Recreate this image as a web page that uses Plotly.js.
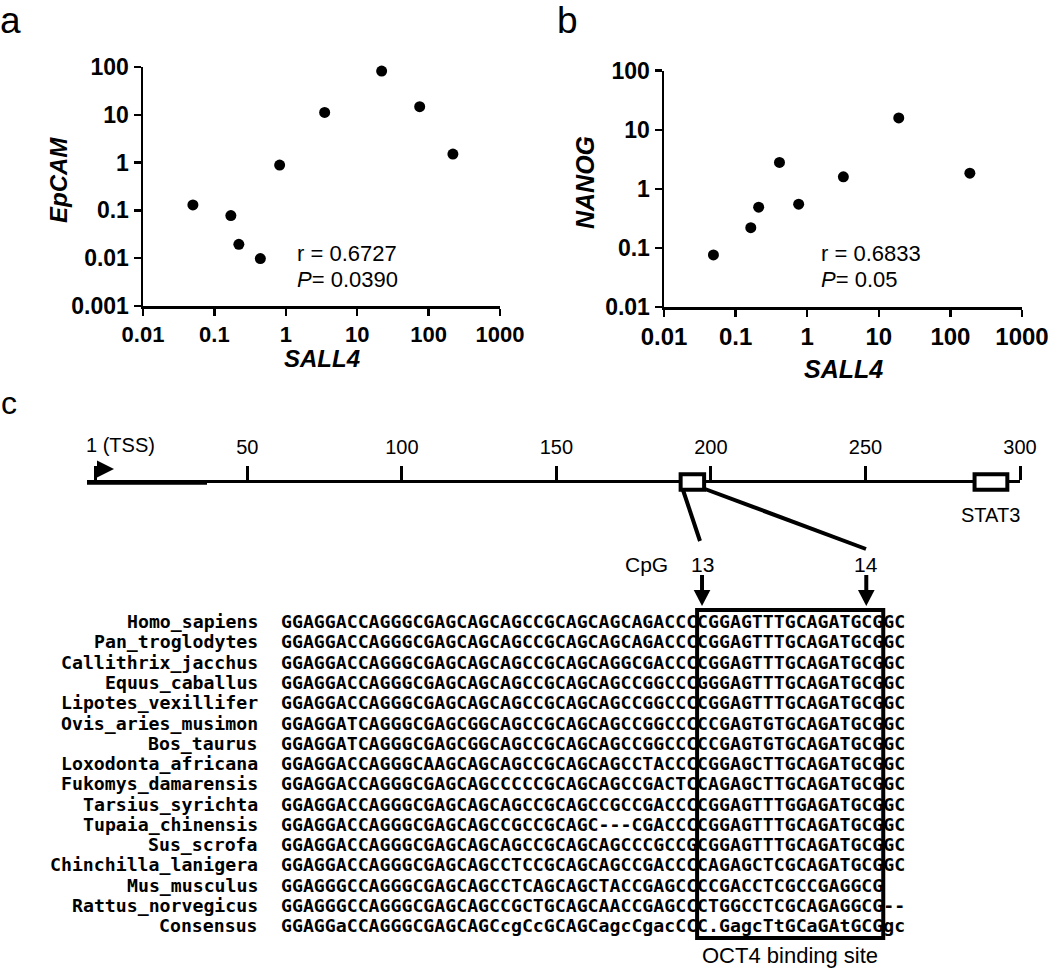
<!DOCTYPE html>
<html><head><meta charset="utf-8">
<script src="https://cdn.plot.ly/plotly-3.0.1.min.js"></script>
<style>html,body{margin:0;padding:0;background:#fff;}#chart{width:1050px;height:971px;}</style>
</head><body><div id="chart"></div>
<script>
// ---------- Panel a data ----------
const sall4_a = [0.05, 0.17, 0.22, 0.44, 0.82, 3.5, 22, 75, 219];
const epcam   = [0.13, 0.078, 0.0195, 0.0098, 0.89, 11.2, 82, 14.8, 1.51];
const stats_a = ['0.6727', '0.0390'];
// ---------- Panel b data ----------
const sall4_b = [0.049, 0.163, 0.21, 0.41, 0.76, 3.2, 19, 187];
const nanog   = [0.076, 0.22, 0.49, 2.8, 0.55, 1.6, 15.9, 1.84];
const stats_b = ['0.6833', '0.05'];
// ---------- tick labels ----------
const xTickVals = [0.01, 0.1, 1, 10, 100, 1000];
const xTickText = ['0.01', '0.1', '1', '10', '100', '1000'];
const yTickValsA = [0.001, 0.01, 0.1, 1, 10, 100];
const yTickTextA = ['0.001', '0.01', '0.1', '1', '10', '100'];
const yTickValsB = [0.01, 0.1, 1, 10, 100];
const yTickTextB = ['0.01', '0.1', '1', '10', '100'];
// ---------- Panel c: promoter schematic ----------
const promoterTicks = [1, 50, 100, 150, 200, 250, 300];
const promoterTickText = ['', '50', '100', '150', '200', '250', '300'];
const cpgRegion = [190.2, 197.8];
const stat3Region = [285.3, 295.9];
// ---------- Panel c: alignment ----------
const species = ['Homo_sapiens', 'Pan_troglodytes', 'Callithrix_jacchus', 'Equus_caballus',
  'Lipotes_vexillifer', 'Ovis_aries_musimon', 'Bos_taurus', 'Loxodonta_africana',
  'Fukomys_damarensis', 'Tarsius_syrichta', 'Tupaia_chinensis', 'Sus_scrofa',
  'Chinchilla_lanigera', 'Mus_musculus', 'Rattus_norvegicus', 'Consensus'];
const sequences = [
  'GGAGGACCAGGGCGAGCAGCAGCCGCAGCAGCAGACCCCGGAGTTTGCAGATGCGGC',
  'GGAGGACCAGGGCGAGCAGCAGCCGCAGCAGCAGACCCCGGAGTTTGCAGATGCGGC',
  'GGAGGACCAGGGCGAGCAGCAGCCGCAGCAGGCGACCCCGGAGTTTGCAGATGCGGC',
  'GGAGGACCAGGGCGAGCAGCAGCCGCAGCAGCCGGCCCGGGAGTTTGCAGATGCGGC',
  'GGAGGACCAGGGCGAGCAGCAGCCGCAGCAGCCGGCCCCGGAGTTTGCAGATGCGGC',
  'GGAGGATCAGGGCGAGCGGCAGCCGCAGCAGCCGGCCCCCGAGTGTGCAGATGCGGC',
  'GGAGGATCAGGGCGAGCGGCAGCCGCAGCAGCCGGCCCCCGAGTGTGCAGATGCGGC',
  'GGAGGACCAGGGCAAGCAGCAGCCGCAGCAGCCTACCCCGGAGCTTGCAGATGCGGC',
  'GGAGGACCAGGGCGAGCAGCCCCCGCAGCAGCCGACTCCAGAGCTTGCAGATGCGGC',
  'GGAGGACCAGGGCGAGCAGCAGCCGCAGCCGCCGACCCCGGAGTTTGGAGATGCGGC',
  'GGAGGACCAGGGCGAGCAGCCGCCGCAGC---CGACCCCGGAGTTTGCAGATGCGGC',
  'GGAGGACCAGGGCGAGCAGCAGCCGCAGCAGCCCGCCGCGGAGTTTGCAGATGCGGC',
  'GGAGGACCAGGGCGAGCAGCCTCCGCAGCAGCCGACCCCAGAGCTCGCAGATGCGGC',
  'GGAGGGCCAGGGCGAGCAGCCTCAGCAGCTACCGAGCCCCGACCTCGCCGAGGCG',
  'GGAGGGCCAGGGCGAGCAGCCGCTGCAGCAACCGAGCCCTGGCCTCGCAGAGGCG--',
  'GGAGGaCCAGGGCGAGCAGCcgCcGCAGCagcCgacCCC.GagcTtGCaGAtGCGgc'];
const oct4Site = [38, 55];        // alignment columns [start, end)
const cpgLabels = ['13', '14'];
const cpgColumns = [38, 53];

// ---------- helpers (pixel -> paper) ----------
const W = 1050, H = 971;
const px = v => v / W;
const py = v => 1 - v / H;
const FONT = '"Liberation Sans", Arial, Helvetica, sans-serif';
const MONO = '"DejaVu Sans Mono", "Liberation Mono", monospace';
const BLACK = '#000';

function scatterAxis(extra) {
  return Object.assign({
    type: 'log', tickmode: 'array', ticks: 'outside', ticklen: 7, tickwidth: 2.5,
    tickcolor: BLACK, showline: true, linewidth: 2.5, linecolor: BLACK,
    showgrid: false, zeroline: false, fixedrange: true,
    tickfont: {family: FONT, size: 23, color: BLACK, weight: 'bold'}
  }, extra);
}

const traces = [
  {type: 'scatter', mode: 'markers', x: sall4_a, y: epcam, xaxis: 'x', yaxis: 'y',
   marker: {size: 11, color: BLACK}, cliponaxis: false, hoverinfo: 'skip'},
  {type: 'scatter', mode: 'markers', x: sall4_b, y: nanog, xaxis: 'x2', yaxis: 'y2',
   marker: {size: 11, color: BLACK}, cliponaxis: false, hoverinfo: 'skip'},
  {type: 'scatter', mode: 'markers', x: [], y: [], xaxis: 'x3', yaxis: 'y3', hoverinfo: 'skip'},
  {type: 'scatter', mode: 'markers', x: [], y: [], xaxis: 'x4', yaxis: 'y4', hoverinfo: 'skip'}
];

const annotations = [];
const shapes = [];
function txt(o) {
  annotations.push(Object.assign({showarrow: false, borderpad: 0, borderwidth: 0,
    xanchor: 'center', yanchor: 'middle', xref: 'paper', yref: 'paper'}, o));
}

// Panel labels
txt({x: px(10.5), y: py(0.5), yanchor: 'top', text: 'a', font: {family: FONT, size: 37, color: BLACK}});
txt({x: px(567.5), y: py(0.5), yanchor: 'top', text: 'b', font: {family: FONT, size: 37, color: BLACK}});
txt({x: px(9), y: py(403), text: 'c', font: {family: FONT, size: 32, color: BLACK}});

// Axis titles
txt({x: px(58), y: py(180), text: '<b><i>EpCAM</i></b>', textangle: -90, font: {family: FONT, size: 24, color: BLACK}});
txt({x: px(321.5), y: py(358), text: '<b><i>SALL4</i></b>', font: {family: FONT, size: 24, color: BLACK}});
txt({x: px(585), y: py(183), text: '<b><i>NANOG</i></b>', textangle: -90, font: {family: FONT, size: 25, color: BLACK}});
txt({x: px(843), y: py(369), text: '<b><i>SALL4</i></b>', font: {family: FONT, size: 25, color: BLACK}});

// Statistics
txt({x: px(297), y: py(253.5), xanchor: 'left', text: 'r = ' + stats_a[0], font: {family: FONT, size: 22, color: BLACK}});
txt({x: px(297), y: py(279.5), xanchor: 'left', text: '<i>P</i>= ' + stats_a[1], font: {family: FONT, size: 22, color: BLACK}});
txt({x: px(821), y: py(253.5), xanchor: 'left', text: 'r = ' + stats_b[0], font: {family: FONT, size: 22, color: BLACK}});
txt({x: px(821), y: py(279.5), xanchor: 'left', text: '<i>P</i>= ' + stats_b[1], font: {family: FONT, size: 22, color: BLACK}});

// Schematic labels
txt({x: px(86), y: py(445), xanchor: 'left', text: '1 (TSS)', font: {family: FONT, size: 20, color: BLACK}});
txt({xref: 'x3', x: (stat3Region[0] + stat3Region[1]) / 2, y: py(515), text: 'STAT3', font: {family: FONT, size: 20, color: BLACK}});
txt({x: px(668), y: py(564), xanchor: 'right', text: 'CpG', font: {family: FONT, size: 21, color: BLACK}});

// TSS arrowhead
shapes.push({type: 'path', xref: 'paper', yref: 'paper', layer: 'above',
  path: `M ${px(97)} ${py(460.5)} L ${px(114)} ${py(469)} L ${px(97)} ${py(477.5)} Z`,
  fillcolor: BLACK, line: {width: 0}});
// slightly heavier first segment of the promoter line
shapes.push({type: 'line', xref: 'paper', yref: 'paper', x0: px(87), x1: px(207), y0: py(482.5), y1: py(482.5),
  line: {color: BLACK, width: 4.5}});
// Region boxes on the promoter line
[cpgRegion, stat3Region].forEach(r => {
  shapes.push({type: 'rect', xref: 'x3', yref: 'paper', layer: 'above',
    x0: r[0], x1: r[1], y0: py(489.7), y1: py(474.3),
    fillcolor: '#fff', line: {color: BLACK, width: 4}});
});
// Zoom-in connector lines
shapes.push({type: 'line', xref: 'paper', yref: 'paper', x0: px(683), y0: py(490), x1: px(700), y1: py(541), line: {color: BLACK, width: 4}});
shapes.push({type: 'line', xref: 'paper', yref: 'paper', x0: px(705), y0: py(489), x1: px(866), y1: py(549), line: {color: BLACK, width: 4}});

// CpG arrows and labels
cpgColumns.forEach((c, i) => {
  const xc = c + 0.45;
  txt({xref: 'x4', x: xc, y: py(564), text: cpgLabels[i], font: {family: FONT, size: 21, color: BLACK}});
  shapes.push({type: 'line', xref: 'x4', yref: 'paper', x0: xc, x1: xc, y0: py(575), y1: py(592),
    line: {color: BLACK, width: 4}});
  shapes.push({type: 'path', xref: 'x4', yref: 'paper',
    path: `M ${xc - 0.76} ${py(590)} L ${xc + 0.76} ${py(590)} L ${xc} ${py(606)} Z`,
    fillcolor: BLACK, line: {width: 0}});
});

// Alignment rows
const monoFont = {family: MONO, size: 18.2, color: BLACK, weight: 'bold'};
species.forEach((name, i) => {
  annotations.push({xref: 'x4', yref: 'y4', x: -2.1, y: i, text: name, showarrow: false,
    xanchor: 'right', yanchor: 'middle', borderpad: 0, borderwidth: 0, font: monoFont});
  annotations.push({xref: 'x4', yref: 'y4', x: 0, y: i, text: sequences[i], showarrow: false,
    xanchor: 'left', yanchor: 'middle', borderpad: 0, borderwidth: 0, font: monoFont});
});
// OCT4 binding site box
shapes.push({type: 'rect', xref: 'x4', yref: 'y4', layer: 'above',
  x0: oct4Site[0], x1: oct4Site[1], y0: -0.58, y1: species.length - 1 + 0.6,
  line: {color: BLACK, width: 4}, fillcolor: 'rgba(0,0,0,0)'});
txt({xref: 'x4', x: (oct4Site[0] + oct4Site[1]) / 2, y: py(955), text: 'OCT4 binding site',
  font: {family: FONT, size: 22, color: BLACK}});

const layout = {
  width: W, height: H,
  margin: {l: 0, r: 0, t: 0, b: 0},
  paper_bgcolor: '#fff', plot_bgcolor: 'rgba(0,0,0,0)',
  showlegend: false, hovermode: false,
  font: {family: FONT, color: BLACK},
  xaxis: scatterAxis({domain: [px(143), px(500)], anchor: 'y', range: [-2, 3],
    tickvals: xTickVals, ticktext: xTickText,
    tickfont: {family: FONT, size: 22, color: BLACK, weight: 'bold'}}),
  yaxis: scatterAxis({domain: [py(306), py(67)], anchor: 'x', range: [-3, 2],
    tickvals: yTickValsA, ticktext: yTickTextA}),
  xaxis2: scatterAxis({domain: [px(664), px(1022)], anchor: 'y2', range: [-2, 3],
    tickvals: xTickVals, ticktext: xTickText,
    tickfont: {family: FONT, size: 24, color: BLACK, weight: 'bold'}}),
  yaxis2: scatterAxis({domain: [py(307), py(70.7)], anchor: 'x2', range: [-2, 2],
    tickvals: yTickValsB, ticktext: yTickTextB}),
  xaxis3: {domain: [px(87), px(1020)], anchor: 'y3', side: 'top', range: [-1.86, 300],
    tickmode: 'array', tickvals: promoterTicks, ticktext: promoterTickText,
    ticks: 'outside', ticklen: 14, tickwidth: 3, tickcolor: BLACK, ticklabelstandoff: 4,
    showline: true, linewidth: 3.5, linecolor: BLACK, showgrid: false, zeroline: false,
    fixedrange: true, tickfont: {family: FONT, size: 20, color: BLACK}},
  yaxis3: {domain: [py(520), py(483)], anchor: 'x3', range: [0, 1], visible: false, fixedrange: true},
  xaxis4: {domain: [px(7.25), px(938)], anchor: 'y4', range: [-25, 60], visible: false, fixedrange: true},
  yaxis4: {domain: [py(945), py(555)], anchor: 'x4', range: [15.95, -3.29], visible: false, fixedrange: true},
  annotations: annotations,
  shapes: shapes
};

Plotly.newPlot('chart', traces, layout, {staticPlot: true, displayModeBar: false});
</script>
</body></html>
